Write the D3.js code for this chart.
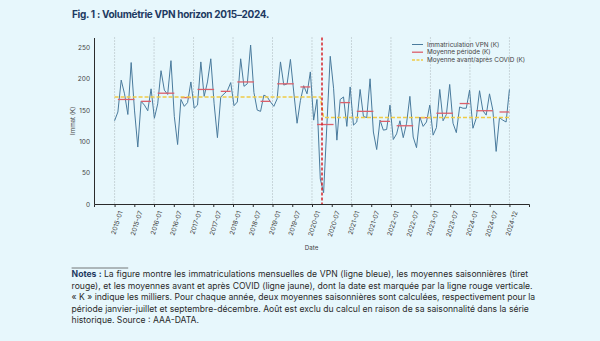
<!DOCTYPE html>
<html>
<head>
<meta charset="utf-8">
<script src="https://cdn.jsdelivr.net/npm/d3@7"></script>
<style>
  html, body { margin: 0; padding: 0; background: #e7f7fc; }
  #chart { position: relative; width: 600px; height: 341px; }
  svg { display: block; font-family: Inter, "Noto Sans", sans-serif; }
  .notes { position: absolute; left: 71.6px; top: 269px;
           font-family: Inter, "Noto Sans", sans-serif; font-size: 8.6px; line-height: 11.5px; color: #2a2a2a; }
  .notes div { white-space: nowrap; text-align: justify; text-align-last: justify; }
  .notes div.last { text-align: left; text-align-last: left; }
  .notes b { color: #1d3a62; }
</style>
</head>
<body>
<div id="chart"></div>
<script>
// monthly registrations, thousands, 2015-01 .. 2024-12
var values = [
    133, 147, 198, 176, 143, 226, 150, 91, 164, 158, 149, 184,
    137, 160, 213, 182, 175, 229, 140, 95, 167, 156, 162, 195,
    153, 158, 227, 172, 195, 232, 160, 106, 171, 176, 181, 194,
    157, 163, 232, 188, 192, 254, 178, 150, 148, 174, 171, 163,
    156, 168, 227, 190, 192, 231, 179, 129, 165, 189, 176, 211,
    134, 167, 40, 18, 128, 236, 185, 102, 167, 171, 124, 187,
    126, 131, 183, 140, 138, 200, 115, 87, 134, 118, 119, 158,
    103, 112, 133, 106, 129, 172, 107, 90, 139, 124, 131, 158,
    110, 122, 183, 133, 143, 191, 129, 114, 155, 153, 153, 182,
    121, 137, 181, 149, 142, 176, 150, 84, 138, 134, 131, 183
];
var months = d3.timeMonths(new Date(2015, 0, 1), new Date(2025, 0, 1)).map(d3.timeFormat("%Y-%m"));

// seasonal means (red dashes)
var periodStart = ["2015-02", "2015-09", "2016-02", "2016-09", "2017-02", "2017-09", "2018-02", "2018-09", "2019-02", "2019-09",
    "2020-02", "2020-09", "2021-02", "2021-09", "2022-02", "2022-09", "2023-02", "2023-09", "2024-02", "2024-09"];
var periodEnd = ["2015-07", "2015-12", "2016-07", "2016-12", "2017-07", "2017-12", "2018-07", "2018-12", "2019-07", "2019-12",
    "2020-07", "2020-12", "2021-07", "2021-12", "2022-07", "2022-12", "2023-07", "2023-12", "2024-07", "2024-12"];
var periodMean = [167, 164, 177, 170, 183, 180, 195, 164, 192, 187,
    127, 162, 148, 132, 125, 138, 145, 160.5, 149, 147];

// before / after COVID means
var covidDate = "2020-03-17";
var covidMeans = [171, 138];

var tickLabels = ["2015-01", "2015-07", "2016-01", "2016-07", "2017-01", "2017-07", "2018-01", "2018-07",
    "2019-01", "2019-07", "2020-01", "2020-07", "2021-01", "2021-07", "2022-01", "2022-07",
    "2023-01", "2023-07", "2024-01", "2024-07", "2024-12"];
var yTicks = [0, 50, 100, 150, 200, 250];

var legendLabels = ["Immatriculation VPN (K)", "Moyenne période (K)", "Moyenne avant/après COVID (K)"];

var notes = [
    "La figure montre les immatriculations mensuelles de VPN (ligne bleue), les moyennes saisonnières (tiret",
    "rouge), et les moyennes avant et après COVID (ligne jaune), dont la date est marquée par la ligne rouge verticale.",
    "« K » indique les milliers. Pour chaque année, deux moyennes saisonnières sont calculées, respectivement pour la",
    "période janvier-juillet et septembre-décembre. Août est exclu du calcul en raison de sa saisonnalité dans la série",
    "historique. Source : AAA-DATA."
];
var noteWidths = [456.5, 461, 456.5, 457.3, null];

var W = 600, H = 341;
var plot = { left: 94, right: 529, top: 37.5, bottom: 204 };

var colors = { line: "#4a7b9d", period: "#db5f6a", covid: "#f0cb45", vline: "#d8232a", axis: "#2b2b2b", text: "#444" };

var svg = d3.select("#chart").append("svg")
    .attr("width", W)
    .attr("height", H);

svg.append("text")
    .attr("x", 72)
    .attr("y", 18)
    .attr("fill", "#1d3a62")
    .attr("font-size", 10)
    .attr("font-weight", 700)
    .attr("letter-spacing", -0.3)
    .text("Fig. 1 : Volumétrie VPN horizon 2015–2024.");

var idx = function (m) { return months.indexOf(m); };
var x = d3.scaleLinear().domain([-6.2, 124.9]).range([plot.left, plot.right]);
var y = d3.scaleLinear().domain([0, 266]).range([plot.bottom, plot.top]);

var n = values.length;
var tickPos = tickLabels.map(function (d, k) { return k * (n - 1) / (tickLabels.length - 1); });

// vertical dotted grid at january ticks and last tick
svg.append("g")
    .selectAll("line")
    .data(tickPos.filter(function (p, k) { return k % 2 === 0 || k === tickPos.length - 1; }))
    .enter().append("line")
    .attr("x1", function (d) { return x(d); })
    .attr("x2", function (d) { return x(d); })
    .attr("y1", plot.top)
    .attr("y2", plot.bottom)
    .attr("stroke", "#9aa4a8")
    .attr("stroke-width", 0.8)
    .attr("stroke-dasharray", "1,2");

// main series
svg.append("path")
    .datum(values)
    .attr("fill", "none")
    .attr("stroke", colors.line)
    .attr("stroke-width", 1)
    .attr("d", d3.line()
        .x(function (d, i) { return x(i); })
        .y(function (d) { return y(d); }));

// period means
svg.append("g")
    .selectAll("line")
    .data(periodMean)
    .enter().append("line")
    .attr("x1", function (d, i) { return x(idx(periodStart[i])); })
    .attr("x2", function (d, i) { return x(idx(periodEnd[i])); })
    .attr("y1", function (d) { return y(d); })
    .attr("y2", function (d) { return y(d); })
    .attr("stroke", colors.period)
    .attr("stroke-width", 1.3);

// covid split
var cd = covidDate.split("-");
var covidIdx = idx(cd[0] + "-" + cd[1]) + (cd[2] - 1) / 31;
var covidSeries = values.map(function (v, i) { return i < covidIdx ? covidMeans[0] : covidMeans[1]; });

svg.append("path")
    .datum(covidSeries)
    .attr("fill", "none")
    .attr("stroke", colors.covid)
    .attr("stroke-width", 1.5)
    .attr("stroke-dasharray", "4,2")
    .attr("d", d3.line()
        .x(function (d, i) { return x(i); })
        .y(function (d) { return y(d); }));

svg.append("line")
    .attr("x1", x(covidIdx))
    .attr("x2", x(covidIdx))
    .attr("y1", plot.top)
    .attr("y2", plot.bottom)
    .attr("stroke", colors.vline)
    .attr("stroke-width", 1.5)
    .attr("stroke-dasharray", "3,2");

// axes
var xAxis = d3.axisBottom(x)
    .tickValues(tickPos)
    .tickSize(3)
    .tickFormat(function (d, k) { return tickLabels[k]; });

var gx = svg.append("g")
    .attr("transform", "translate(0," + plot.bottom + ")")
    .call(xAxis);
gx.select(".domain").attr("stroke", colors.axis);
gx.selectAll(".tick line").attr("stroke", colors.axis);
gx.selectAll("text")
    .attr("fill", colors.text)
    .attr("font-size", 6.5)
    .attr("font-family", "Inter, sans-serif")
    .style("text-anchor", "end")
    .attr("dx", "0")
    .attr("dy", "0")
    .attr("transform", "translate(2,6) rotate(-72)");

var yAxis = d3.axisLeft(y).tickValues(yTicks).tickSize(0).tickPadding(4);
var gy = svg.append("g")
    .attr("transform", "translate(" + plot.left + ",0)")
    .call(yAxis);
gy.select(".domain").attr("stroke", colors.axis);
gy.selectAll("text")
    .attr("fill", colors.text)
    .attr("font-size", 6.5)
    .attr("font-family", "Inter, sans-serif");

svg.append("text")
    .attr("transform", "translate(75," + ((plot.top + plot.bottom) / 2) + ") rotate(-90)")
    .attr("text-anchor", "middle")
    .attr("fill", colors.text)
    .attr("font-size", 6.2)
    .text("Immat (K)");

svg.append("text")
    .attr("x", (plot.left + plot.right) / 2)
    .attr("y", 250)
    .attr("text-anchor", "middle")
    .attr("fill", colors.text)
    .attr("font-size", 6.2)
    .text("Date");

// legend
var legend = svg.append("g").attr("transform", "translate(412,44.5)");
var legendStyle = [
    { c: colors.line, dash: null, w: 1 },
    { c: colors.period, dash: null, w: 1.3 },
    { c: colors.covid, dash: "3,1.5", w: 1.5 }
];
legendLabels.forEach(function (label, i) {
    var row = legend.append("g").attr("transform", "translate(0," + (i * 7.7) + ")");
    row.append("line")
        .attr("x1", 0).attr("x2", 11)
        .attr("stroke", legendStyle[i].c)
        .attr("stroke-width", legendStyle[i].w)
        .attr("stroke-dasharray", legendStyle[i].dash);
    row.append("text")
        .attr("x", 15)
        .attr("y", 2.2)
        .attr("fill", colors.text)
        .attr("font-size", 6.4)
        .text(label);
});

// notes
svg.append("line")
    .attr("x1", 71.6).attr("x2", 128.2)
    .attr("y1", 268).attr("y2", 268)
    .attr("stroke", "#555")
    .attr("stroke-width", 0.8);

var noteBox = d3.select("#chart").append("div").attr("class", "notes");
notes.forEach(function (line, i) {
    var row = noteBox.append("div");
    if (noteWidths[i]) row.style("width", noteWidths[i] + "px");
    else row.attr("class", "last");
    if (i === 0) row.append("b").text("Notes : ");
    row.append("span").text(line);
});
</script>
</body>
</html>
